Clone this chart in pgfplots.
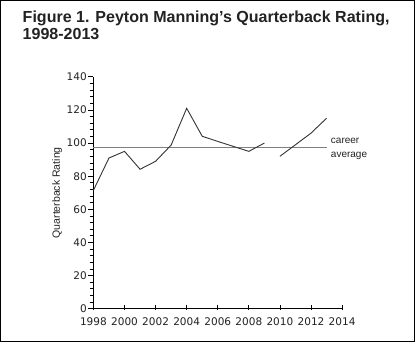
\documentclass[border=0pt]{standalone}
\usepackage{fontspec}
\setmainfont{Liberation Sans}
\newfontfamily\tickfont{DejaVu Sans}
\usepackage{pgfplots}
\pgfplotsset{compat=1.18}
\definecolor{txt}{HTML}{222222}
\definecolor{dataline}{HTML}{333333}
\definecolor{avgline}{HTML}{808080}
\begin{document}
\begin{tikzpicture}[x=1pt,y=1pt]
\draw[line width=1.2pt, black] (0.6,0.6) rectangle (413.8,341.4);
\node[anchor=base west, inner sep=0, font=\fontsize{16}{16.7}\selectfont\bfseries, text=txt] at (22.5,319.3) {Figure 1. Peyton Manning’s Quarterback Rating,};
\node[anchor=base west, inner sep=0, font=\fontsize{16}{16.7}\selectfont\bfseries, text=txt] at (22.5,302.6) {1998-2013};
\begin{axis}[
  at={(93.3pt,33.7pt)}, anchor=south west,
  scale only axis, width=248.3pt, height=231.6pt,
  xmin=1998, xmax=2014, ymin=0, ymax=140,
  axis x line=bottom, axis y line=left,
  axis line style={-, black, line width=0.8pt},
  xtick={1998,2000,...,2014}, ytick={0,20,...,140},
  minor x tick num=1, minor y tick num=4,
  tick align=outside,
  major tick length=5pt, minor tick length=3pt,
  tick style={black, line width=0.8pt},
  major x tick style={yshift=4pt},
  minor x tick style={yshift=3pt},
  /pgf/number format/1000 sep={},
  /pgf/number format/assume math mode=true,
  ticklabel style={font=\tickfont\fontsize{10.5}{12}\selectfont, text=txt},
  yticklabel style={inner sep=1.5pt},
  ylabel={Quarterback Rating},
  ylabel style={at={(axis description cs:-0.146,0.5)}, anchor=center, font=\fontsize{10.5}{12}\selectfont, text=txt},
  clip=false,
]
\addplot[avgline, line width=1.1pt] coordinates {(1998,97.5) (2013,97.5)};
\addplot[dataline, line width=0.9pt] coordinates {
(1998,71.5) (1999,91) (2000,95) (2001,84.2) (2002,89) (2003,98.8)
(2004,121) (2005,104.1) (2006,101) (2007,98) (2008,95) (2009,100)};
\addplot[dataline, line width=0.9pt] coordinates {
(2010,92) (2012,106) (2013,115)};
\node[anchor=west, align=left, inner sep=0, font=\fontsize{10}{14}\selectfont, text=txt] at (axis cs:2013.27,96.3) {career\\average};
\end{axis}
\end{tikzpicture}
\end{document}
